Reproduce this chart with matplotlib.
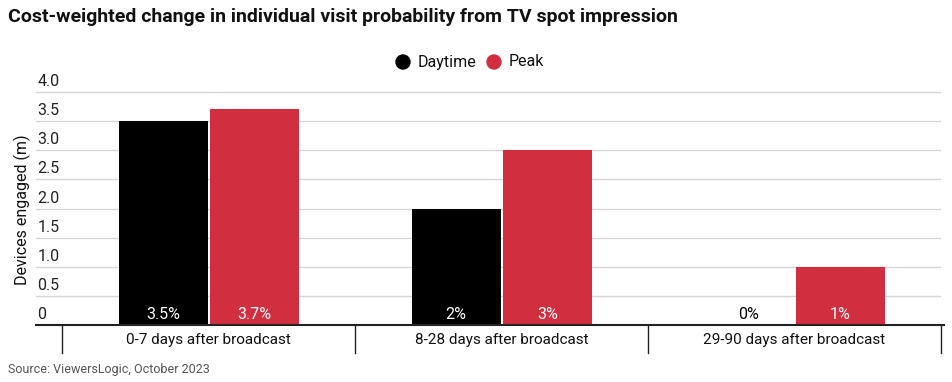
import matplotlib
matplotlib.use("Agg")
import matplotlib.pyplot as plt
import numpy as np

categories = ["0-7 days after broadcast", "8-28 days after broadcast", "29-90 days after broadcast"]
series_names = ["Daytime", "Peak"]
daytime = [3.5, 2.0, 0.0]
peak = [3.7, 3.0, 1.0]
daytime_labels = ["3.5%", "2%", "0%"]
peak_labels = ["3.7%", "3%", "1%"]
yticks = [0, 0.5, 1.0, 1.5, 2.0, 2.5, 3.0, 3.5, 4.0]
ytick_labels = ["0", "0.5", "1.0", "1.5", "2.0", "2.5", "3.0", "3.5", "4.0"]

BLACK = "#000000"
RED = "#d12f3f"

W, H = 952, 382
fig = plt.figure(figsize=(W / 100, H / 100), dpi=100)
plt.rcParams['font.family'] = ['Roboto', 'DejaVu Sans']

def fx(px):
    return px / W

def fy(py):
    return 1 - py / H

ax_top_px = 80
ax = fig.add_axes([fx(36), fy(325), fx(944 - 36), (325 - ax_top_px) / H])
ymax = 4.0 * (325 - ax_top_px) / (325 - 92)
ax.set_ylim(0, ymax)
ax.set_xlim(-0.59, 2.51)

x = np.arange(len(categories))
bw = 0.304
off = 0.156
ax.bar(x - off, daytime, bw, color=BLACK, zorder=3)
ax.bar(x + off, peak, bw, color=RED, zorder=3)

for xi, lab in zip(x, daytime_labels):
    ax.text(xi - off, 0.05, lab, ha='center', va='bottom', fontsize=11.5,
            color='white' if lab != "0%" else BLACK, zorder=4)
for xi, lab in zip(x, peak_labels):
    ax.text(xi + off, 0.05, lab, ha='center', va='bottom', fontsize=11.5,
            color='white', zorder=4)

# gridlines and y labels
for t, lab in zip(yticks, ytick_labels):
    if t > 0:
        ax.plot([-0.59, 2.495], [t, t], color='#d6d6d6', lw=1, zorder=1, clip_on=False)
    ax.text(-0.585, t + 0.05, lab, ha='left', va='bottom', fontsize=11.5, color='#222222')

for s in ax.spines.values():
    s.set_visible(False)
ax.set_xticks([])
ax.set_yticks([])

# baseline
ax.plot([-0.59, 2.51], [0, 0], color='#222222', lw=1.5, zorder=5, clip_on=False)

# category dividers and labels
trans = ax.get_xaxis_transform()
for b in [-0.5, 0.5, 1.5, 2.5]:
    ax.plot([b, b], [0, -28 / (325 - ax_top_px)], color='#222222', lw=1,
            transform=trans, clip_on=False)
for xi, c in zip(x, categories):
    ax.text(xi, -15 / (325 - ax_top_px), c, ha='center', va='center', fontsize=11,
            transform=trans, color='#111111')

fig.text(fx(22), fy(210), "Devices engaged (m)", rotation=90, ha='center', va='center',
         fontsize=11.5, color='#111111')

fig.text(fx(8), fy(17), "Cost-weighted change in individual visit probability from TV spot impression",
         ha='left', va='center', fontsize=14, fontweight='bold', color='#111111')

# legend
for cx, col, name in [(403, BLACK, "Daytime"), (494, RED, "Peak")]:
    fig.add_artist(matplotlib.patches.Ellipse((fx(cx), fy(62)), 14 / W, 14 / H,
                                              transform=fig.transFigure, color=col))
    fig.text(fx(cx + 15), fy(62), name, ha='left', va='center', fontsize=11.5,
             color='#111111')

fig.text(fx(8), fy(369), "Source: ViewersLogic, October 2023", ha='left', va='center',
         fontsize=9, color='#555555')

fig.savefig("out.png", dpi=100)
